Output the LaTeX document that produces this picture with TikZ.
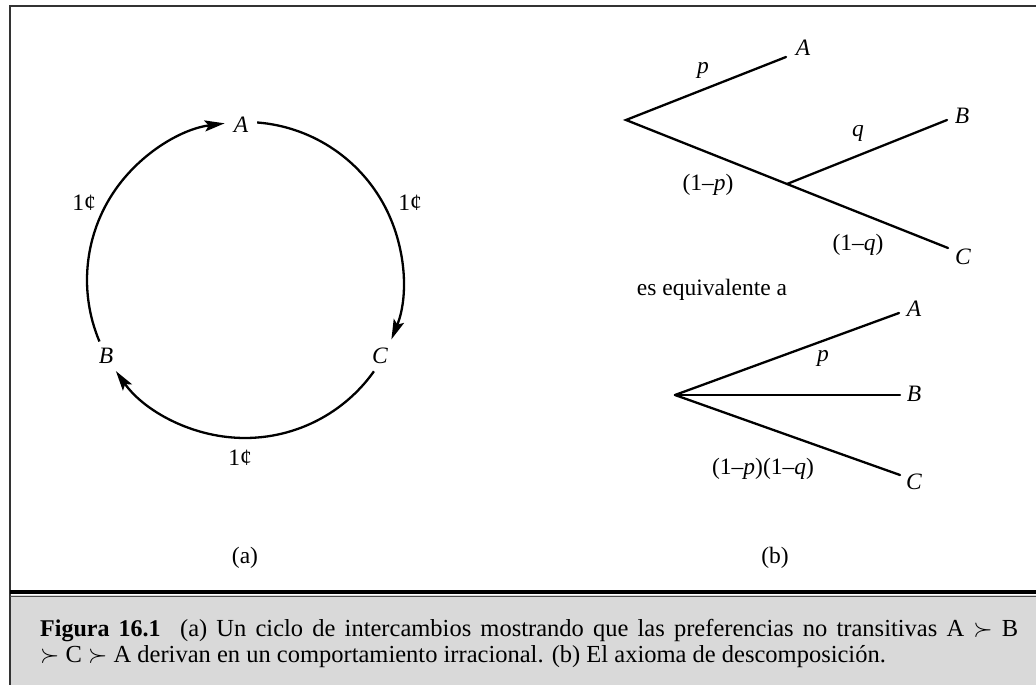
\documentclass[tikz,border=0pt]{standalone}
\usepackage{fontspec}
\setmainfont{Liberation Serif}
\usetikzlibrary{arrows.meta,calc}
\begin{document}
\begin{tikzpicture}[x=1pt,y=1pt,
  lbl/.style={inner sep=0pt,font=\fontsize{23.5}{26}\selectfont},
  ilbl/.style={inner sep=0pt,font=\fontsize{23.5}{26}\selectfont\itshape},
  arcline/.style={line width=2.3pt,-{Stealth[length=20pt,width=11pt,inset=4pt]}},
  branch/.style={line width=2.3pt,line cap=round},
  frameline/.style={line width=2pt,draw=black!80}]
\useasboundingbox (0,0) rectangle (1036,-687);
% frame and caption box
\fill[black!15] (10,-595) rectangle (1036,-685);
\draw[frameline] (1036,-6) -- (10,-6) -- (10,-685);
\draw[line width=3.5pt] (10,-592) -- (1036,-592);
\draw[line width=0.8pt,black!70] (10,-596.5) -- (1036,-596.5);
\node[inner sep=0pt,font=\fontsize{24.5}{26}\selectfont,anchor=base west,align=left] (cap) at (40,-662)
  {\makebox[978pt][s]{{\bfseries\fontsize{24}{26}\selectfont Figura 16.1}\hspace{0.8em}(a) Un ciclo de intercambios mostrando que las preferencias no transitivas A $\succ$ B}\\
   $\succ$ C $\succ$ A derivan en un comportamiento irracional. (b) El axioma de descomposición.};
% (a) cycle
\coordinate (O) at (245,-280);
\node[ilbl] (A) at (241,-125) {A};
\node[ilbl] (B) at (106,-356) {B};
\node[ilbl] (C) at (380,-356) {C};
\draw[arcline] ($(O)+(202.9:158)$) arc[start angle=202.9,end angle=97.4,radius=158];
\draw[arcline] ($(O)+(85.6:158)$) arc[start angle=85.6,end angle=-22.1,radius=158];
\draw[arcline] ($(O)+(-35.3:158)$) arc[start angle=-35.3,end angle=-144.8,radius=158];
\node[lbl] (c1) at (84,-203) {1¢};
\node[lbl] (c2) at (410,-203) {1¢};
\node[lbl] (c3) at (240,-458) {1¢};
\node[lbl] (la) at (245,-558) {(a)};
% (b) first tree
\coordinate (r1) at (626,-120);
\coordinate (a1) at (786,-57);
\coordinate (m1) at (787,-184);
\coordinate (b1) at (947,-120);
\coordinate (e1) at (948,-248);
\draw[branch] (a1) -- (r1) -- (e1);
\draw[branch] (m1) -- (b1);
\node[ilbl] (tA1) at (803,-48) {A};
\node[ilbl] (tB1) at (962,-116) {B};
\node[ilbl] (tC1) at (963,-257) {C};
\node[ilbl] (p1) at (703,-70) {p};
\node[ilbl] (q1) at (858,-133) {q};
\node[lbl] (np1) at (708,-185) {(1–\textit{p})};
\node[lbl] (nq1) at (858,-245) {(1–\textit{q})};
\node[lbl] (eq) at (712,-290) {es equivalente a};
% (b) second tree
\coordinate (r2) at (675,-395);
\coordinate (a2) at (899,-313);
\coordinate (b2) at (900,-395);
\coordinate (e2) at (900,-475);
\draw[branch] (r2) -- (a2);
\draw[branch] (r2) -- (b2);
\draw[branch] (r2) -- (e2);
\node[ilbl] (tA2) at (914,-309) {A};
\node[ilbl] (tB2) at (914,-394) {B};
\node[ilbl] (tC2) at (914,-482) {C};
\node[ilbl] (p2) at (823,-358) {p};
\node[lbl] (npq) at (763,-469) {(1–\textit{p})(1–\textit{q})};
\node[lbl] (lb) at (775,-558) {(b)};
\end{tikzpicture}
\end{document}
